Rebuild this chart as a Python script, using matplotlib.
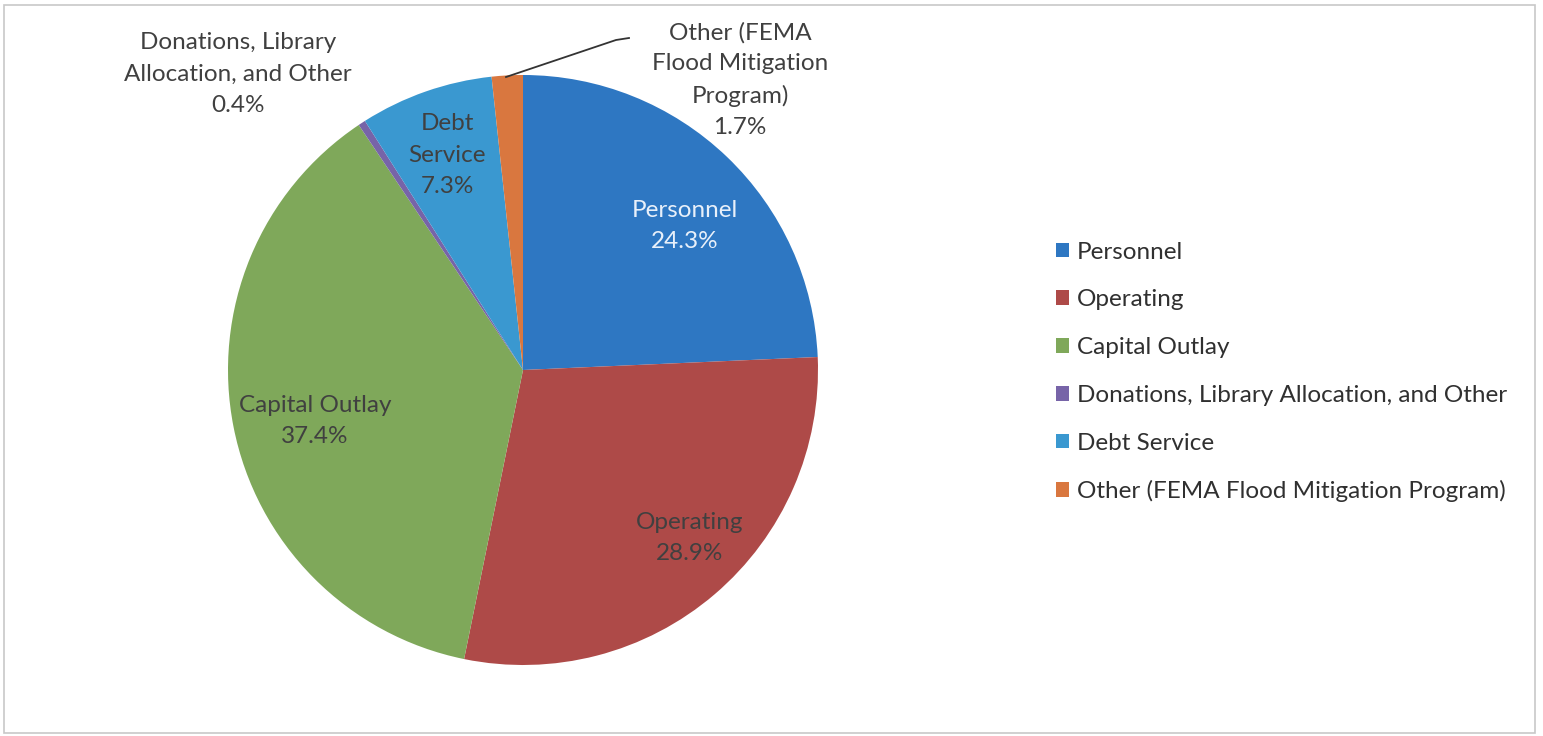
import matplotlib.pyplot as plt
from matplotlib.patches import Rectangle

# budget shares, percent
categories = ["Personnel", "Operating", "Capital Outlay",
              "Donations, Library Allocation, and Other", "Debt Service",
              "Other (FEMA Flood Mitigation Program)"]
shares = [24.3, 28.9, 37.4, 0.4, 7.3, 1.7]
slice_labels = ["Personnel", "Operating", "Capital Outlay",
                "Donations, Library\nAllocation, and Other", "Debt\nService",
                "Other (FEMA\nFlood Mitigation\nProgram)"]
colors = ["#2E77C2", "#AE4A48", "#7FA85A", "#7764A8", "#3A98D0", "#D9773F"]

plt.rcParams["font.family"] = ["Lato", "DejaVu Sans"]
W, H = 1543, 736
fig = plt.figure(figsize=(W / 100, H / 100), dpi=100)

# pie axes: centre (523, 370) px, radius 295 px
cx, cy, r = 523, 370, 295
ax = fig.add_axes([(cx - r) / W, (H - cy - r) / H, 2 * r / W, 2 * r / H])
wedges, _ = ax.pie(shares, colors=colors, startangle=90, counterclock=False,
                   radius=1.0, wedgeprops=dict(linewidth=0))
ax.set_xlim(-1, 1)
ax.set_ylim(-1, 1)
ax.set_aspect("equal")
ax.axis("off")


def px(x, y):
    # pixel position -> data coords of the pie axes
    return (x - cx) / r, (cy - y) / r


txt = "#404040"
fs = 17.5
label_pos = [(685, 226), (690, 538), (315, 421), (238, 74), (447, 155), (740, 80)]
label_col = ["#E8F0FA", txt, txt, txt, txt, txt]
for lab, val, (x, y), c in zip(slice_labels, shares, label_pos, label_col):
    ax.text(*px(x, y), f"{lab}\n{val}%", ha="center", va="center",
            fontsize=fs, color=c, linespacing=1.6, clip_on=False)

# leader line for the small FEMA slice
lx = [506, 616, 629]
ly = [77, 40, 38]
ax.plot([px(a, b)[0] for a, b in zip(lx, ly)],
        [px(a, b)[1] for a, b in zip(lx, ly)],
        color="#333333", lw=1.3, clip_on=False)

fig.legend(wedges, categories, loc="center left",
           bbox_to_anchor=(1034 / W, 1 - 372 / H), frameon=False,
           fontsize=fs, handlelength=0.55, handleheight=0.55,
           handletextpad=0.3, labelspacing=1.1, labelcolor="#303030")

# light chart-area frame
fig.patches.append(Rectangle((4 / W, 3 / H), 1531 / W, 728 / H,
                             transform=fig.transFigure, fill=False,
                             edgecolor="#C8C8C8", lw=1.2))

fig.savefig("out.png", dpi=100, facecolor="white")
